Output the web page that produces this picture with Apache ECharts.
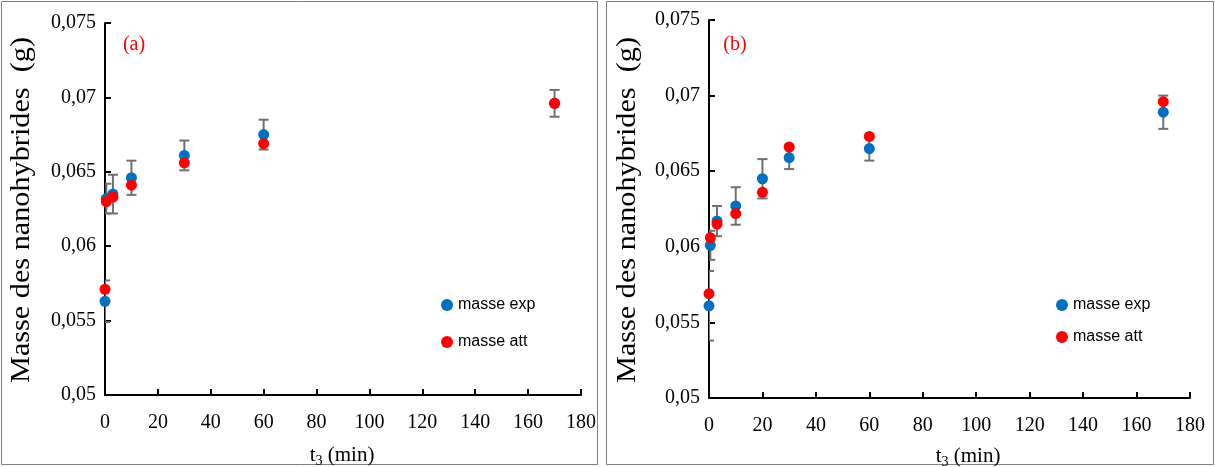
<!DOCTYPE html>
<html>
<head>
<meta charset="utf-8">
<script src="https://cdn.jsdelivr.net/npm/echarts@6/dist/echarts.min.js"></script>
<style>
html,body{margin:0;padding:0;background:#fff;}
#chart{width:1215px;height:467px;}
</style>
</head>
<body>
<div id="chart"></div>
<script>
// ---- data ----
const tA = [0, 0.5, 3, 10, 30, 60, 170];
const expA = [0.0563, 0.0632, 0.0635, 0.0646, 0.0661, 0.0675, 0.0696];
const attA = [0.0571, 0.0630, 0.0633, 0.0641, 0.0656, 0.0669, 0.0696];
const errA = [0.0014, 0.0010, 0.0013, 0.00115, 0.0010, 0.0010, 0.0009];

const tB = [0, 0.5, 3, 10, 20, 30, 60, 170];
const expB = [0.0561, 0.0601, 0.0617, 0.0627, 0.0645, 0.0659, 0.0665, 0.0689];
const attB = [0.0569, 0.0606, 0.0615, 0.0622, 0.0636, 0.0666, 0.0673, 0.0696];
const errB = [0.0023, 0.00096, 0.0010, 0.00124, 0.0013, 0.00076, 0.0008, 0.0011];

const xTicks = {min: 0, max: 180, interval: 20};
const yTicks = {min: 0.05, max: 0.075, interval: 0.005};
const seriesNames = ['masse exp', 'masse att'];
const panelLabels = ['(a)', '(b)'];
const yTitle = 'Masse des nanohybrides  (g)';

// ---- styles ----
const BLUE = '#0070C0', RED = '#FF0000', ERR = '#707070';
const SERIF = 'Liberation Serif';
const SANS = 'Liberation Sans';

function pairs(xs, ys) { return xs.map((x, i) => [x, ys[i]]); }
function errData(xs, ys, es) { return xs.map((x, i) => [x, ys[i] - es[i], ys[i] + es[i]]); }

function errSeries(idx, data) {
  return {
    type: 'custom', xAxisIndex: idx, yAxisIndex: idx, z: 1, clip: true,
    silent: true,
    renderItem: function (params, api) {
      const x = api.value(0);
      const lo = api.coord([x, api.value(1)]);
      const hi = api.coord([x, api.value(2)]);
      const w = 5;
      const st = {stroke: ERR, lineWidth: 2};
      return {
        type: 'group', children: [
          {type: 'line', shape: {x1: lo[0], y1: lo[1], x2: hi[0], y2: hi[1]}, style: st},
          {type: 'line', shape: {x1: lo[0] - w, y1: lo[1], x2: lo[0] + w, y2: lo[1]}, style: st},
          {type: 'line', shape: {x1: hi[0] - w, y1: hi[1], x2: hi[0] + w, y2: hi[1]}, style: st}
        ]
      };
    },
    encode: {x: 0, y: [1, 2]},
    data: data
  };
}

function xAxis(idx) {
  return {
    type: 'value', gridIndex: idx, min: xTicks.min, max: xTicks.max, interval: xTicks.interval,
    axisLine: {lineStyle: {color: '#000', width: 2}},
    axisTick: {inside: true, length: 6, lineStyle: {color: '#000', width: 2}},
    axisLabel: {fontFamily: SERIF, fontSize: 20, color: '#000', margin: 18},
    splitLine: {show: false}
  };
}
function yAxis(idx) {
  return {
    type: 'value', gridIndex: idx, min: yTicks.min, max: yTicks.max, interval: yTicks.interval,
    axisLine: {show: true, lineStyle: {color: '#000', width: 2}},
    axisTick: {show: true, inside: true, length: 6, lineStyle: {color: '#000', width: 2}},
    axisLabel: {
      fontFamily: SERIF, fontSize: 20, color: '#000', margin: 9,
      formatter: v => String(Math.round(v * 1000) / 1000).replace('.', ',')
    },
    splitLine: {show: false}
  };
}
function scat(idx, name, color, data, z) {
  return {
    type: 'scatter', name: name, xAxisIndex: idx, yAxisIndex: idx, z: z,
    symbol: 'circle', symbolSize: 11, itemStyle: {color: color, opacity: 1},
    data: data, silent: true
  };
}
function legend(left, top, gap) {
  return {
    orient: 'vertical', left: left, top: top, itemGap: gap, padding: 0,
    icon: 'circle', itemWidth: 12, itemHeight: 12,
    textStyle: {fontFamily: SANS, fontSize: 16, color: '#000'},
    data: seriesNames, selectedMode: false
  };
}
function xTitle(cx, y) {
  return {
    type: 'text', x: cx, y: y,
    style: {
      text: '{t|t}{s|3}{t| (min)}', textAlign: 'center', textVerticalAlign: 'middle',
      rich: {
        t: {fontFamily: SERIF, fontSize: 21, color: '#000'},
        s: {fontFamily: SERIF, fontSize: 14, color: '#000', padding: [13, 0, 0, 0], verticalAlign: 'top'}
      }
    }
  };
}
function yTitleG(x, y) {
  return {
    type: 'text', x: x, y: y, rotation: Math.PI / 2, scaleX: 1.12,
    style: {text: yTitle, font: '27px "Liberation Serif"', fill: '#000', textAlign: 'center', textVerticalAlign: 'middle'}
  };
}

const chart = echarts.init(document.getElementById('chart'), null, {renderer: 'canvas'});
chart.setOption({
  animation: false,
  backgroundColor: '#fff',
  grid: [
    {left: 105, top: 23, width: 476, height: 372},
    {left: 709, top: 20, width: 481, height: 378}
  ],
  xAxis: [xAxis(0), xAxis(1)],
  yAxis: [yAxis(0), yAxis(1)],
  legend: [legend(441, 297, 21), legend(1056, 297, 16)],
  series: [
    errSeries(0, errData(tA, expA, errA)),
    scat(0, seriesNames[0], BLUE, pairs(tA, expA), 2),
    scat(0, seriesNames[1], RED, pairs(tA, attA), 3),
    errSeries(1, errData(tB, expB, errB)),
    scat(1, seriesNames[0], BLUE, pairs(tB, expB), 2),
    scat(1, seriesNames[1], RED, pairs(tB, attB), 3)
  ],
  graphic: [
    {type: 'rect', shape: {x: 1.5, y: 1.5, width: 596, height: 463}, style: {fill: 'none', stroke: '#808080', lineWidth: 1}, silent: true},
    {type: 'rect', shape: {x: 606.5, y: 1.5, width: 607, height: 463}, style: {fill: 'none', stroke: '#808080', lineWidth: 1}, silent: true},
    yTitleG(22, 210),
    yTitleG(628, 210),
    xTitle(342, 455),
    xTitle(968, 456),
    {type: 'text', x: 134, y: 45, style: {text: panelLabels[0], font: '20px "Liberation Serif"', fill: RED, textAlign: 'center', textVerticalAlign: 'middle'}},
    {type: 'text', x: 735, y: 45, style: {text: panelLabels[1], font: '20px "Liberation Serif"', fill: RED, textAlign: 'center', textVerticalAlign: 'middle'}}
  ]
});
</script>
</body>
</html>
